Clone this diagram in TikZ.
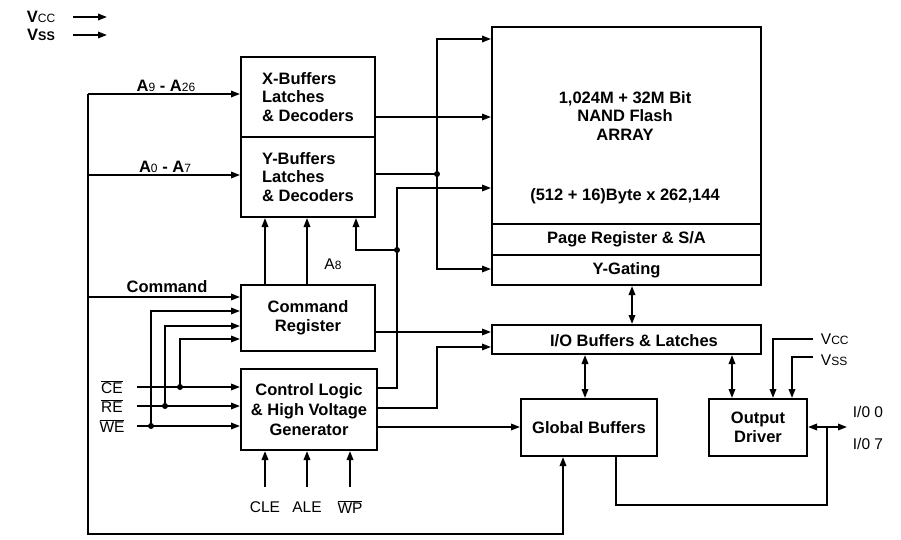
\documentclass[tikz,border=0pt]{standalone}
\usepackage{fontspec}
\setmainfont{Liberation Sans}
\usetikzlibrary{arrows.meta}
\newcommand{\sm}[1]{{\fontsize{12}{12}\selectfont\mdseries #1}}
\newcommand{\smb}[1]{{\fontsize{12.5}{12}\selectfont #1}}
\begin{document}
\begin{tikzpicture}[x=1pt,y=-1pt, line width=1.8pt, >={Triangle[length=9pt,width=6.5pt]},
  box/.style={draw, line width=2pt, inner sep=0pt, anchor=north west, align=center, font=\fontsize{16.5}{18.5}\selectfont\bfseries},
  txt/.style={inner sep=0pt, font=\fontsize{16.5}{18.5}\selectfont\bfseries, align=center},
  rtxt/.style={inner sep=0pt, font=\fontsize{15.5}{18}\selectfont},
  dot/.style={circle, fill, inner sep=0pt, minimum size=6pt}]
\fill[white] (0,0) rectangle (901,540);
\useasboundingbox (0,0) rectangle (901,540);

% boxes
\node[box, minimum width=134pt, minimum height=80pt, align=left] (xb) at (240,56) {X-Buffers\\Latches\\\& Decoders};
\node[box, minimum width=134pt, minimum height=80pt, align=left] (yb) at (240,136) {Y-Buffers\\Latches\\\& Decoders};
\node[box, minimum width=134pt, minimum height=66pt] (cr) at (240,284) {Command\\Register};
\node[box, minimum width=136pt, minimum height=81pt, font=\fontsize{16.5}{20}\selectfont\bfseries] (cl) at (240,368) {Control Logic\\\& High Voltage\\Generator};
\node[box, minimum width=269pt, minimum height=197pt] (arr) at (491,26) {};
\node[box, minimum width=269pt, minimum height=31pt] (pr) at (491,223) {Page Register \& S/A};
\node[box, minimum width=269pt, minimum height=30pt] (yg) at (491,254) {Y-Gating};
\node[box, minimum width=269pt, minimum height=29pt] (io) at (491,324) {};
\node[box, minimum width=136pt, minimum height=57pt] (gb) at (520,398) {Global Buffers};
\node[box, minimum width=98pt, minimum height=57pt] (od) at (708,398) {Output\\Driver};

\node[txt] (arrt) at (625,116) {1,024M + 32M Bit\\NAND Flash\\ARRAY};
\node[txt] (arrb) at (625,196) {(512 + 16)Byte x 262,144};
\node[txt] (iot) at (634,341) {I/O Buffers \& Latches};

% top-left supply labels
\node[txt] (vcc) at (41,17) {V\sm{CC}};
\node[txt] (vss) at (41,35) {V\smb{SS}};
\coordinate (vccA) at (73,17); \coordinate (vccB) at (107,17);
\coordinate (vssA) at (73,35); \coordinate (vssB) at (107,35);
\draw[->] (vccA) -- (vccB);
\draw[->] (vssA) -- (vssB);

% left bus
\coordinate (busT) at (88,94);
\coordinate (busB) at (88,534);
\coordinate (a0) at (88,175);
\coordinate (cmd) at (88,297);
\draw[->] (busT) -- (busT -| xb.west);
\draw[->] (busT) -- (busB) -| ([xshift=43pt]gb.south west);
\draw[->] (a0) -- (a0 -| yb.west);
\draw[->] (cmd) -- (cmd -| cr.west);
\node[txt] (la9) at (166,86) {A\sm{9} - A\sm{26}};
\node[txt] (la0) at (165,167) {A\sm{0} - A\sm{7}};
\node[txt] (lcmd) at (167,287) {Command};

% CE RE WE
\node[rtxt] (ce) at (112,387) {$\overline{\mbox{CE}}$};
\node[rtxt] (re) at (112,406) {$\overline{\mbox{RE}}$};
\node[rtxt] (we) at (112,426) {$\overline{\mbox{WE}}$};
\coordinate (ceS) at (137,387);
\coordinate (reS) at (137,406);
\coordinate (weS) at (137,426);
\draw[->] (ceS) -- (ceS -| cl.west);
\draw[->] (reS) -- (reS -| cl.west);
\draw[->] (weS) -- (weS -| cl.west);
\node[dot] (dce) at (180,387) {};
\node[dot] (dre) at (165,406) {};
\node[dot] (dwe) at (151,426) {};
\draw[->] (dce.center) |- (cr.west |- 0,339);
\draw[->] (dre.center) |- (cr.west |- 0,326);
\draw[->] (dwe.center) |- (cr.west |- 0,311);

% command register to Y buffers
\draw[->] (cr.north -| 265,0) -- (yb.south -| 265,0);
\draw[->] (cr.north -| 307,0) -- (yb.south -| 307,0);
\node[rtxt] (a8) at (333,264) {A\sm{8}};

% x=397 line
\draw[->] (cl.east |- 0,388) -- (397,388) -- (397,188) -- (arr.west |- 0,188);
\node[dot] (d397) at (397,250) {};
\draw[->] (d397.center) -| (yb.south -| 356,0);

% X/Y buffers to array
\draw[->] (xb.east |- 0,117) -- (arr.west |- 0,117);
\draw (yb.east |- 0,174) -- (437,174);
\node[dot] (d437) at (437,174) {};
\draw[->] (d437.center) |- (arr.west |- 0,39);
\draw[->] (d437.center) |- (yg.west |- 0,269);

% array to IO
\draw[<->] (yg.south -| 632,0) -- (io.north -| 632,0);
\draw[->] (cr.east |- 0,332) -- (io.west |- 0,332);
\draw[->] (cl.east |- 0,408) -| (437,347) -- (io.west |- 0,347);
\draw[->] (cl.east |- 0,427) -- (gb.west |- 0,427);
\draw[<->] (io.south -| 585,0) -- (gb.north -| 585,0);
\draw[<->] (io.south -| 732,0) -- (od.north -| 732,0);

% right supplies
\coordinate (vccR) at (813,339);
\coordinate (vssR) at (813,357);
\draw[->] (vccR) -| (od.north -| 773,0);
\draw[->] (vssR) -| (od.north -| 792,0);
\node[rtxt, anchor=west] (vccl) at (820,339) {V\sm{CC}};
\node[rtxt, anchor=west] (vssl) at (820,360) {V\sm{SS}};

% output
\coordinate (ioR) at (847,427);
\draw[<->] (od.east |- 0,427) -- (ioR);
\draw (827,427) -- (827,505) -| (gb.south -| 616,0);
\node[rtxt, anchor=west] (io0) at (852,412) {I/0 0};
\node[rtxt, anchor=west] (io7) at (852,444) {I/0 7};

% bottom inputs
\coordinate (cle) at (265,487);
\coordinate (ale) at (307,487);
\coordinate (wp) at (350,487);
\draw[->] (cle) -- (cl.south -| cle);
\draw[->] (ale) -- (cl.south -| ale);
\draw[->] (wp) -- (cl.south -| wp);
\node[rtxt] (lcle) at (265,507) {CLE};
\node[rtxt] (lale) at (307,507) {ALE};
\node[rtxt] (lwp) at (350,507) {$\overline{\mbox{WP}}$};
\end{tikzpicture}
\end{document}
